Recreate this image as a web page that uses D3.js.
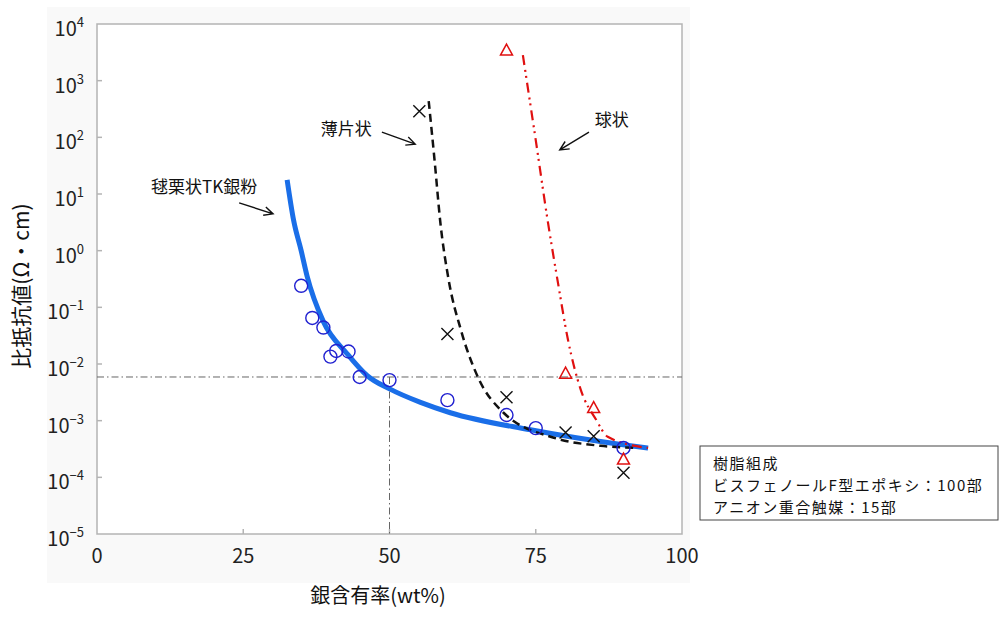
<!DOCTYPE html>
<html>
<head>
<meta charset="utf-8">
<script src="https://cdn.jsdelivr.net/npm/d3@7"></script>
<style>
  body { margin: 0; background: #fff; }
  svg { display: block; font-family: "Noto Sans CJK JP", "Noto Sans", sans-serif; }
</style>
</head>
<body>
<svg width="1000" height="621"></svg>
<script>
const svg = d3.select("svg");

// measured points: 毬栗状TK銀粉 (circles)
const tkX = [34.9, 36.8, 38.7, 39.9, 40.9, 43.0, 44.9, 50.0, 59.9, 70.0, 75.0, 90.0];
const tkY = [0.24, 0.065, 0.044, 0.0135, 0.017, 0.0166, 0.0059, 0.0052, 0.0023, 0.00126, 0.00074, 0.00033];

// 薄片状 (crosses)
const flakeX = [55.1, 59.9, 70.0, 80.1, 84.9, 90.0];
const flakeY = [290, 0.034, 0.0026, 0.00062, 0.00053, 0.00012];

// 球状 (triangles)
const sphereX = [70.0, 80.1, 84.9, 90.0];
const sphereY = [3470, 0.0069, 0.0017, 0.00021];

// trend curves
const tkFitX = [32.5, 33.6, 34.9, 35.9, 38.7, 42.8, 46.2, 50.1, 55.3, 60.4, 74.1, 89.6, 94.2];
const tkFitY = [17.8, 3.47, 1.0, 0.36, 0.056, 0.0150, 0.0062, 0.0036, 0.0021, 0.00138, 0.00069, 0.00038, 0.00033];

const flakeFitX = [56.7, 57.7, 58.7, 60.1, 62.2, 65.1, 69.5, 78.1, 86.1, 92.5];
const flakeFitY = [437, 39.8, 3.09, 0.31, 0.040, 0.0059, 0.00138, 0.0005, 0.00036, 0.00033];

const sphereFitX = [72.8, 75.0, 77.1, 78.8, 80.5, 82.7, 85.3, 87.3, 94.2];
const sphereFitY = [2820, 89, 3.09, 0.27, 0.027, 0.0035, 0.00105, 0.00052, 0.00033];

// reference lines
const refX = 50;
const refY = 0.0059;

const xTicks = [0, 25, 50, 75, 100];
const yExps = [-5, -4, -3, -2, -1, 0, 1, 2, 3, 4];

const legendLines = ["樹脂組成", "ビスフェノールF型エポキシ：100部", "アニオン重合触媒：15部"];

// annotations in data units: [label, textX, textY, arrowFromX, arrowFromY, arrowToX, arrowToY]
const notes = [
    ["毬栗状TK銀粉", 18.3, 13.9, 24.3, 6.97, 30.1, 4.46],
    ["薄片状", 42.6, 152, 48.7, 124, 54.4, 75.9],
    ["球状", 88.0, 211, 84.1, 124, 79.1, 60]
];

/* ---------- scales ---------- */
const plot = { left: 97, right: 682, top: 24, bottom: 534 };

const x = d3.scaleLinear().domain([0, 100]).range([plot.left, plot.right]);
const y = d3.scaleLog().domain([1e-5, 1e4]).range([plot.bottom, plot.top]);

/* ---------- background ---------- */
svg.append("rect")
    .attr("x", 47).attr("y", 7)
    .attr("width", 643).attr("height", 576)
    .attr("fill", "#f9f9f9");

svg.append("rect")
    .attr("x", plot.left).attr("y", plot.top)
    .attr("width", plot.right - plot.left).attr("height", plot.bottom - plot.top)
    .attr("fill", "#fff")
    .attr("stroke", "#b4b4b4")
    .attr("stroke-width", 1.5);

/* ---------- ticks ---------- */
const gray = "#b4b4b4";

svg.append("g").selectAll("line")
    .data(xTicks.slice(1, -1))
    .join("line")
    .attr("x1", d => x(d)).attr("x2", d => x(d))
    .attr("y1", plot.bottom).attr("y2", plot.bottom - 5)
    .attr("stroke", gray).attr("stroke-width", 1.5);

svg.append("g").selectAll("text")
    .data(xTicks)
    .join("text")
    .attr("x", d => x(d))
    .attr("y", 563)
    .attr("text-anchor", "middle")
    .attr("font-size", 20)
    .attr("fill", "#222")
    .text(d => d);

svg.append("g").selectAll("line")
    .data(yExps.slice(1, -1))
    .join("line")
    .attr("x1", plot.left).attr("x2", plot.left + 5)
    .attr("y1", d => y(Math.pow(10, d))).attr("y2", d => y(Math.pow(10, d)))
    .attr("stroke", gray).attr("stroke-width", 1.5);

const yLab = svg.append("g").selectAll("text")
    .data(yExps)
    .join("text")
    .attr("x", 84)
    .attr("y", d => y(Math.pow(10, d)) + 12)
    .attr("text-anchor", "end")
    .attr("font-size", 20)
    .attr("fill", "#222");
yLab.append("tspan").text("10");
yLab.append("tspan")
    .attr("dy", -9)
    .attr("font-size", 13)
    .text(d => d < 0 ? "−" + (-d) : d);

/* ---------- axis titles ---------- */
svg.append("text")
    .attr("x", 378).attr("y", 603)
    .attr("text-anchor", "middle")
    .attr("font-size", 20)
    .attr("fill", "#111")
    .text("銀含有率(wt%)");

svg.append("text")
    .attr("transform", "translate(29,286) rotate(-90)")
    .attr("text-anchor", "middle")
    .attr("font-size", 21)
    .attr("fill", "#111")
    .text("比抵抗値(Ω・cm)");

/* ---------- reference lines ---------- */
svg.append("line")
    .attr("x1", plot.left).attr("x2", plot.right)
    .attr("y1", y(refY)).attr("y2", y(refY))
    .attr("stroke", "#666").attr("stroke-width", 1)
    .attr("stroke-dasharray", "7,3,1.5,3");

svg.append("line")
    .attr("x1", x(refX)).attr("x2", x(refX))
    .attr("y1", y(refY)).attr("y2", plot.bottom)
    .attr("stroke", "#666").attr("stroke-width", 1)
    .attr("stroke-dasharray", "7,3,1.5,3");

/* ---------- curves ---------- */
const line = d3.line()
    .x(d => x(d[0]))
    .y(d => y(d[1]))
    .curve(d3.curveMonotoneX);

svg.append("path")
    .attr("d", line(d3.zip(tkFitX, tkFitY)))
    .attr("fill", "none")
    .attr("stroke", "#1a6ee8")
    .attr("stroke-width", 5);

svg.append("path")
    .attr("d", line(d3.zip(flakeFitX, flakeFitY)))
    .attr("fill", "none")
    .attr("stroke", "#111")
    .attr("stroke-width", 2.5)
    .attr("stroke-dasharray", "8,5");

svg.append("path")
    .attr("d", line(d3.zip(sphereFitX, sphereFitY)))
    .attr("fill", "none")
    .attr("stroke", "#e01010")
    .attr("stroke-width", 2.2)
    .attr("stroke-dasharray", "10,5,2,4,2,5");

/* ---------- markers ---------- */
svg.append("g").selectAll("circle")
    .data(d3.zip(tkX, tkY))
    .join("circle")
    .attr("cx", d => x(d[0]))
    .attr("cy", d => y(d[1]))
    .attr("r", 6.5)
    .attr("fill", "none")
    .attr("stroke", "#2020d0")
    .attr("stroke-width", 1.4);

svg.append("g").selectAll("path")
    .data(d3.zip(flakeX, flakeY))
    .join("path")
    .attr("transform", d => `translate(${x(d[0])},${y(d[1])})`)
    .attr("d", "M-6,-6L6,6M-6,6L6,-6")
    .attr("stroke", "#111")
    .attr("stroke-width", 1.4);

svg.append("g").selectAll("path")
    .data(d3.zip(sphereX, sphereY))
    .join("path")
    .attr("transform", d => `translate(${x(d[0])},${y(d[1])})`)
    .attr("d", "M0,-6L6,5L-6,5Z")
    .attr("fill", "none")
    .attr("stroke", "#e01010")
    .attr("stroke-width", 1.5);

/* ---------- annotations ---------- */
notes.forEach(n => {
    svg.append("text")
        .attr("x", x(n[1])).attr("y", y(n[2]))
        .attr("text-anchor", "middle")
        .attr("dominant-baseline", "central")
        .attr("font-size", 17)
        .attr("fill", "#111")
        .text(n[0]);

    const x1 = x(n[3]), y1 = y(n[4]), x2 = x(n[5]), y2 = y(n[6]);
    const a = Math.atan2(y2 - y1, x2 - x1);
    const h = 10, s = 0.45;
    svg.append("path")
        .attr("d", `M${x1},${y1}L${x2},${y2}` +
            `M${x2 - h * Math.cos(a - s)},${y2 - h * Math.sin(a - s)}L${x2},${y2}` +
            `L${x2 - h * Math.cos(a + s)},${y2 - h * Math.sin(a + s)}`)
        .attr("fill", "none")
        .attr("stroke", "#111")
        .attr("stroke-width", 1.4);
});

/* ---------- legend box ---------- */
svg.append("rect")
    .attr("x", 700).attr("y", 446)
    .attr("width", 298).attr("height", 74)
    .attr("fill", "#fff")
    .attr("stroke", "#444")
    .attr("stroke-width", 1);

svg.append("g").selectAll("text")
    .data(legendLines)
    .join("text")
    .attr("x", 713)
    .attr("y", (d, i) => 469 + i * 22)
    .attr("font-size", 15)
    .attr("letter-spacing", 1.5)
    .attr("fill", "#111")
    .text(d => d);
</script>
</body>
</html>
